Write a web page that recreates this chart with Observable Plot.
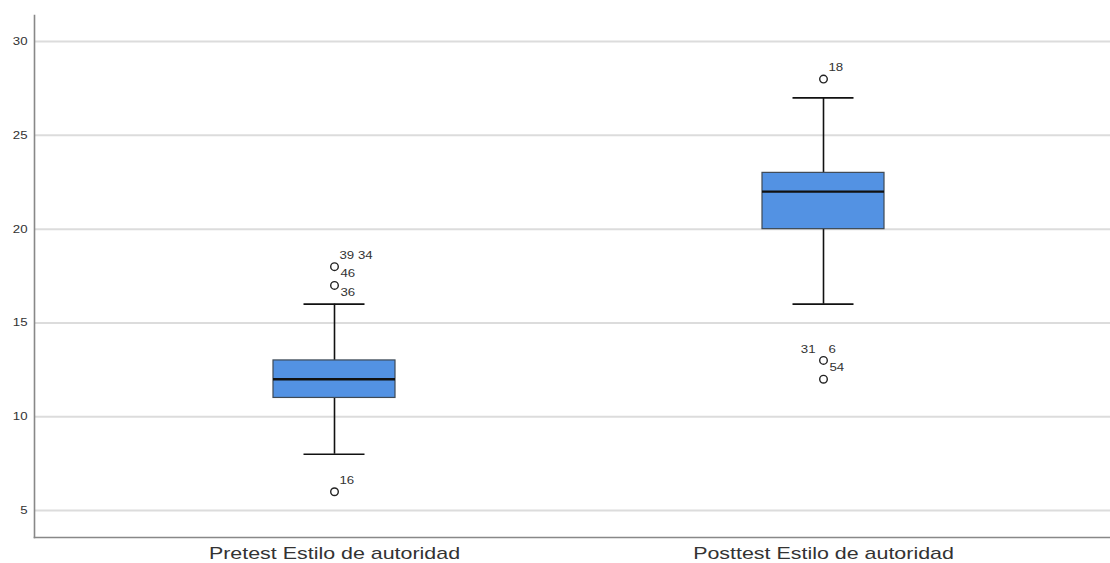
<!DOCTYPE html>
<html>
<head>
<meta charset="utf-8">
<script src="https://cdn.jsdelivr.net/npm/d3@7"></script>
<script src="https://cdn.jsdelivr.net/npm/@observablehq/plot@0.6"></script>
<style>
  html, body { margin: 0; padding: 0; background: #fff; }
  #chart { width: 1110px; height: 563px; }
</style>
</head>
<body>
<div id="chart"></div>
<script>
// ---- Data ----
const categories = ["Pretest Estilo de autoridad", "Posttest Estilo de autoridad"];
const whiskerLow  = [8, 16];
const q1          = [11, 20];
const median      = [12, 22];
const q3          = [13, 23];
const whiskerHigh = [16, 27];

// outlier points
const outlierGroup = [0, 0, 0, 1, 1, 1];
const outlierValue = [18, 17, 6, 28, 13, 12];

// outlier case labels (group, value, text, placement)
const labelGroup = [0, 0, 0, 0, 1, 1, 1, 1];
const labelValue = [18, 18, 17, 6, 28, 13, 13, 13];
const labelText  = ["39 34", "46", "36", "16", "18", "31", "6", "54"];
const labelPlace = ["ne", "se", "se", "ne", "ne", "nw", "ne", "se"];

const yTicks = [5, 10, 15, 20, 25, 30];

// ---- Build tables ----
const boxes = categories.map((c, i) => ({
  cat: c, lo: whiskerLow[i], q1: q1[i], med: median[i], q3: q3[i], hi: whiskerHigh[i]
}));
const outliers = outlierGroup.map((g, i) => ({ cat: categories[g], v: outlierValue[i] }));
const offsets = {
  ne: { dx: 5, dy: -11, anchor: "start" },
  se: { dx: 6, dy: 7, anchor: "start" },
  nw: { dx: -8, dy: -11, anchor: "end" }
};
const labels = labelGroup.map((g, i) => ({
  cat: categories[g], v: labelValue[i], t: labelText[i], p: labelPlace[i]
}));

const font = "'Liberation Sans', Arial, sans-serif";

function textMark(place) {
  const o = offsets[place];
  return Plot.text(labels.filter(d => d.p === place), {
    x: "cat", y: "v", text: "t",
    dx: o.dx, dy: o.dy, textAnchor: o.anchor,
    fontSize: 10.5, fill: "#333"
  });
}

const plot = Plot.plot({
  width: 1110,
  height: 563,
  marginTop: 15,
  marginBottom: 26,
  marginLeft: 34,
  marginRight: 0,
  style: { fontFamily: font, background: "#fff" },
  x: {
    type: "band",
    domain: categories,
    paddingInner: 0.751,
    paddingOuter: 0.4735,
    align: 0.513,
    label: null
  },
  y: {
    domain: [3.56, 31.39],
    label: null
  },
  marks: [
    Plot.ruleY(yTicks, { stroke: "#dcdcdc", strokeWidth: 2 }),
    Plot.axisY(yTicks, { tickSize: 0, tickPadding: 7, fontSize: 10.5, fill: "#333", label: null }),
    Plot.axisX({ tickSize: 0, tickPadding: 9, fontSize: 17, fill: "#333", label: null }),
    // whiskers
    Plot.ruleX(boxes, { x: "cat", y1: "lo", y2: "q1", stroke: "#111", strokeWidth: 1.6 }),
    Plot.ruleX(boxes, { x: "cat", y1: "q3", y2: "hi", stroke: "#111", strokeWidth: 1.6 }),
    Plot.tickY(boxes, { x: "cat", y: "lo", stroke: "#111", strokeWidth: 1.6, inset: 30.5 }),
    Plot.tickY(boxes, { x: "cat", y: "hi", stroke: "#111", strokeWidth: 1.6, inset: 30.5 }),
    // boxes
    Plot.barY(boxes, { x: "cat", y1: "q1", y2: "q3", fill: "#5392e3", stroke: "#3f4a55", strokeWidth: 1.2 }),
    Plot.tickY(boxes, { x: "cat", y: "med", stroke: "#111", strokeWidth: 2.4 }),
    // outliers
    Plot.dot(outliers, { x: "cat", y: "v", r: 3.8, fill: "#fff", stroke: "#222", strokeWidth: 1.4 }),
    textMark("ne"), textMark("se"), textMark("nw"),
    // axis lines
    Plot.frame({ anchor: "left", stroke: "#888", strokeWidth: 1.6 }),
    Plot.frame({ anchor: "bottom", stroke: "#888", strokeWidth: 1.6 })
  ]
});
document.getElementById("chart").appendChild(plot);

// The reference's text is horizontally stretched; widen glyphs to match.
const stretch = 1.26;
plot.querySelectorAll("text").forEach(t => {
  const w = t.getComputedTextLength();
  if (w > 0) {
    t.setAttribute("textLength", (w * stretch).toFixed(2));
    t.setAttribute("lengthAdjust", "spacingAndGlyphs");
  }
});
</script>
</body>
</html>
